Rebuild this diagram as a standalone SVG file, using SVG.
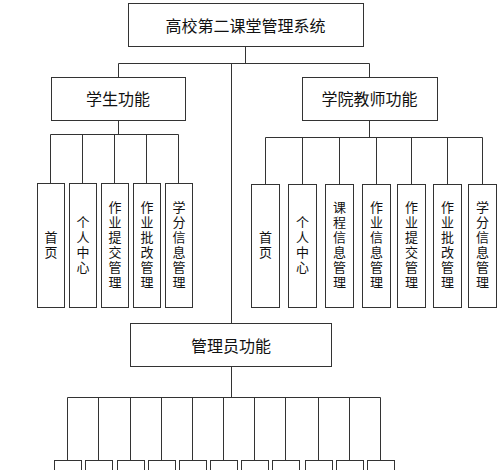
<svg xmlns="http://www.w3.org/2000/svg" width="500" height="470" viewBox="0 0 500 470">
<style>
.box{fill:#fff;stroke:#333;stroke-width:1}
.t{font-family:"Noto Sans CJK SC","Liberation Sans",sans-serif;font-size:16px;fill:#111;text-anchor:middle;dominant-baseline:central}
.v{font-family:"Noto Sans CJK SC","Liberation Sans",sans-serif;font-size:13px;fill:#111;text-anchor:middle;writing-mode:vertical-rl;text-orientation:upright;letter-spacing:2px}
.c{fill:none;stroke:#333;stroke-width:1}
</style>
<rect width="500" height="470" fill="#fff"/>
<g id="connectors" class="c">
<path d="M245.5 46V63.5M118.5 63.5H369.5M118.5 63.5V77M369.5 63.5V77M231.5 63.5V323"/>
<path d="M118.5 120V134.5M50.5 134.5H178.5M50.5 134.5V183M82.5 134.5V183M114.5 134.5V183M146.5 134.5V183M178.5 134.5V183"/>
<path d="M369.5 120V137.5M265.5 137.5H482.5M265.5 137.5V184M302.5 137.5V184M339.5 137.5V184M376.5 137.5V184M411.5 137.5V184M447.5 137.5V184M482.5 137.5V184"/>
<path d="M231.5 366V397.5M67.5 397.5H380.5M67.5 397.5V460M98.5 397.5V460M130.5 397.5V460M161.5 397.5V460M192.5 397.5V460M223.5 397.5V460M254.5 397.5V460M285.5 397.5V460M318.5 397.5V460M349.5 397.5V460M380.5 397.5V460"/>
</g>
<g id="root"><rect class="box" x="128.5" y="3.5" width="235" height="43"/><text class="t" x="245.5" y="25">高校第二课堂管理系统</text></g>
<g id="student"><rect class="box" x="51.5" y="77.5" width="134" height="43"/><text class="t" x="118" y="98">学生功能</text></g>
<g id="teacher"><rect class="box" x="302.5" y="77.5" width="135" height="43"/><text class="t" x="369.5" y="98">学院教师功能</text></g>
<g id="admin"><rect class="box" x="130.5" y="323.5" width="201" height="43"/><text class="t" x="231" y="345">管理员功能</text></g>

<g id="s1"><rect class="box" x="37.5" y="183.5" width="27" height="124"/><text class="v" x="51" y="246">首页</text></g>
<g id="s2"><rect class="box" x="69.5" y="183.5" width="27" height="124"/><text class="v" x="83" y="246">个人中心</text></g>
<g id="s3"><rect class="box" x="101.5" y="183.5" width="27" height="124"/><text class="v" x="115" y="246">作业提交管理</text></g>
<g id="s4"><rect class="box" x="133.5" y="183.5" width="27" height="124"/><text class="v" x="147" y="246">作业批改管理</text></g>
<g id="s5"><rect class="box" x="165.5" y="183.5" width="27" height="124"/><text class="v" x="179" y="246">学分信息管理</text></g>

<g id="t1"><rect class="box" x="251.5" y="184.5" width="28" height="123"/><text class="v" x="265.5" y="246">首页</text></g>
<g id="t2"><rect class="box" x="288.5" y="184.5" width="28" height="123"/><text class="v" x="302.5" y="246">个人中心</text></g>
<g id="t3"><rect class="box" x="325.5" y="184.5" width="28" height="123"/><text class="v" x="339.5" y="246">课程信息管理</text></g>
<g id="t4"><rect class="box" x="362.5" y="184.5" width="28" height="123"/><text class="v" x="376.5" y="246">作业信息管理</text></g>
<g id="t5"><rect class="box" x="397.5" y="184.5" width="28" height="123"/><text class="v" x="411.5" y="246">作业提交管理</text></g>
<g id="t6"><rect class="box" x="433.5" y="184.5" width="28" height="123"/><text class="v" x="447.5" y="246">作业批改管理</text></g>
<g id="t7"><rect class="box" x="468.5" y="184.5" width="28" height="123"/><text class="v" x="482.5" y="246">学分信息管理</text></g>

<g id="a1"><rect class="box" x="54.5" y="460.5" width="27" height="20"/></g>
<g id="a2"><rect class="box" x="85.5" y="460.5" width="27" height="20"/></g>
<g id="a3"><rect class="box" x="117.5" y="460.5" width="27" height="20"/></g>
<g id="a4"><rect class="box" x="148.5" y="460.5" width="27" height="20"/></g>
<g id="a5"><rect class="box" x="179.5" y="460.5" width="27" height="20"/></g>
<g id="a6"><rect class="box" x="210.5" y="460.5" width="27" height="20"/></g>
<g id="a7"><rect class="box" x="241.5" y="460.5" width="27" height="20"/></g>
<g id="a8"><rect class="box" x="272.5" y="460.5" width="27" height="20"/></g>
<g id="a9"><rect class="box" x="305.5" y="460.5" width="27" height="20"/></g>
<g id="a10"><rect class="box" x="336.5" y="460.5" width="27" height="20"/></g>
<g id="a11"><rect class="box" x="367.5" y="460.5" width="27" height="20"/></g>
</svg>
